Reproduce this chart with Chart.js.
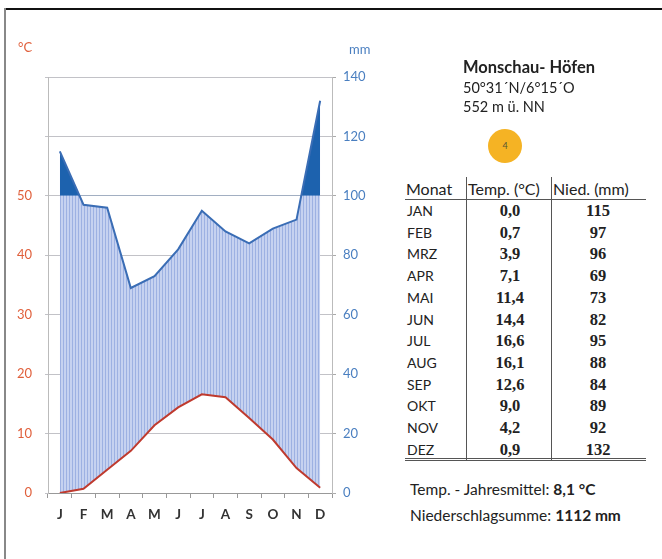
<!DOCTYPE html>
<html>
<head>
<meta charset="utf-8">
<script src="https://cdn.jsdelivr.net/npm/chart.js@4"></script>
<style>
  html, body { margin: 0; padding: 0; background: #fff; }
  body { width: 662px; height: 559px; position: relative; overflow: hidden; font-family: Lato, 'Open Sans', sans-serif; color: #222; }
  .abs { position: absolute; white-space: nowrap; }
  #frameTop { position: absolute; left: 4px; top: 8px; width: 658px; height: 2px; background: #111; }
  #frameLeft { position: absolute; left: 4px; top: 8px; width: 2px; height: 551px; background: #888; }
  #chartBox { position: absolute; left: 0; top: 0; width: 380px; height: 559px; }
  .unit { font-size: 13px; }
  .vline { position: absolute; width: 1px; background: #555; }
  .hline { position: absolute; height: 1px; background: #555; }
  .mon { font-size: 14px; }
  .head { font-size: 16px; }
  .val { font-family: 'Liberation Serif', 'DejaVu Serif', serif; font-weight: bold; font-size: 16.5px; text-align: center; width: 60px; }
  .foot { font-size: 15.5px; }
</style>
</head>
<body>
<div id="frameTop"></div>
<div id="frameLeft"></div>
<div id="chartBox"><canvas id="c" width="380" height="559"></canvas></div>
<div class="abs unit" style="left:18px; top:39px; color:#e0603c;">°C</div>
<div class="abs unit" style="left:349px; top:41px; color:#4a7fc0;">mm</div>

<div class="abs" style="left:463px; top:57px; font-size:16.5px; font-weight:bold;">Monschau- Höfen</div>
<div class="abs" style="left:463px; top:79px; font-size:14.5px;">50°31´N/6°15´O</div>
<div class="abs" style="left:463px; top:98px; font-size:14.5px;">552 m ü. NN</div>
<div class="abs" style="left:488px; top:129px; width:34px; height:34px; border-radius:50%; background:#f5b324; text-align:center; line-height:34px; font-size:9px; color:#553;">4</div>

<div id="table"></div>

<div class="abs foot" style="left:410px; top:480px;">Temp. - Jahresmittel: <b>8,1 °C</b></div>
<div class="abs foot" style="left:410px; top:506px;">Niederschlagsumme: <b>1112 mm</b></div>

<script>
const monthLetters = ['J', 'F', 'M', 'A', 'M', 'J', 'J', 'A', 'S', 'O', 'N', 'D'];
const monthNames = ['JAN', 'FEB', 'MRZ', 'APR', 'MAI', 'JUN', 'JUL', 'AUG', 'SEP', 'OKT', 'NOV', 'DEZ'];
const tempC = [0.0, 0.7, 3.9, 7.1, 11.4, 14.4, 16.6, 16.1, 12.6, 9.0, 4.2, 0.9];
const precipMm = [115, 97, 96, 69, 73, 82, 95, 88, 84, 89, 92, 132];
const tempTicks = [0, 10, 20, 30, 40, 50];
const precipTicks = [0, 20, 40, 60, 80, 100, 120, 140];

// table on the right, built from the arrays
const table = document.getElementById('table');
function add(html) { table.insertAdjacentHTML('beforeend', html); }
add('<div class="abs head" style="left:406px; top:179px;">Monat</div>');
add('<div class="abs head" style="left:468px; top:179px;">Temp. (°C)</div>');
add('<div class="abs head" style="left:553px; top:179px;">Nied. (mm)</div>');
add('<div class="vline" style="left:466px; top:177px; height:283px;"></div>');
add('<div class="vline" style="left:551px; top:177px; height:283px;"></div>');
add('<div class="hline" style="left:405px; top:199px; width:241px;"></div>');
add('<div class="hline" style="left:405px; top:458px; width:241px;"></div>');
add('<div class="hline" style="left:405px; top:460px; width:241px;"></div>');
monthNames.forEach((m, i) => {
  const y = 202 + i * 21.7;
  add(`<div class="abs mon" style="left:407px; top:${y}px;">${m}</div>`);
  add(`<div class="abs val" style="left:480px; top:${y - 1}px;">${tempC[i].toFixed(1).replace('.', ',')}</div>`);
  add(`<div class="abs val" style="left:568px; top:${y - 1}px;">${precipMm[i]}</div>`);
});

// vertical hatch pattern
function makeHatch() {
  const p = document.createElement('canvas');
  p.width = 3; p.height = 4;
  const g = p.getContext('2d');
  g.fillStyle = '#c6d2f0';
  g.fillRect(0, 0, 3, 4);
  g.fillStyle = '#9db1e2';
  g.fillRect(0, 0, 1, 4);
  return g.createPattern(p, 'repeat');
}

Chart.defaults.font.family = 'Lato, "Open Sans", sans-serif';
Chart.defaults.font.size = 13;

new Chart(document.getElementById('c'), {
  type: 'line',
  data: {
    labels: monthLetters,
    datasets: [
      {
        label: 'Temp',
        data: tempC,
        yAxisID: 'yL',
        borderColor: '#bf3a2e',
        borderWidth: 2,
        pointRadius: 0,
        tension: 0,
        fill: false
      },
      {
        label: 'Nied',
        data: precipMm,
        yAxisID: 'yR',
        borderColor: '#3a6db5',
        borderWidth: 2,
        pointRadius: 0,
        tension: 0,
        fill: { target: { value: 100 }, above: '#1d62ae', below: 'rgba(0,0,0,0)' }
      },
      {
        label: 'Humid',
        data: precipMm,
        yAxisID: 'yR',
        borderWidth: 0,
        borderColor: 'rgba(0,0,0,0)',
        pointRadius: 0,
        tension: 0,
        backgroundColor: makeHatch(),
        fill: 0
      }
    ]
  },
  options: {
    responsive: false,
    animation: false,
    events: [],
    layout: { padding: { top: 77, bottom: 0, left: 0, right: 0 } },
    plugins: { legend: { display: false }, tooltip: { enabled: false } },
    scales: {
      x: {
        offset: true,
        grid: { offset: true, drawOnChartArea: false, drawTicks: true, tickLength: 5, color: '#999' },
        border: { color: '#999' },
        ticks: { color: '#333', font: { weight: 'bold', size: 13.5 }, padding: 9, maxRotation: 0 },
        afterFit: s => { s.height = 66; }
      },
      yL: {
        position: 'left',
        min: 0, max: 70,
        z: 1,
        afterBuildTicks: s => { s.ticks = [0, 10, 20, 30, 40, 50, 60, 70].map(v => ({ value: v })); },
        ticks: {
          color: '#e0603c',
          padding: 13,
          callback: v => tempTicks.includes(v) ? String(v) : ''
        },
        grid: { color: 'rgba(120,120,130,0.45)', tickLength: 3 },
        border: { color: '#bbb' },
        afterFit: s => { s.width = 48; }
      },
      yR: {
        position: 'right',
        min: 0, max: 140,
        afterBuildTicks: s => { s.ticks = precipTicks.map(v => ({ value: v })); },
        ticks: { color: '#4a7fc0', padding: 7 },
        grid: { drawOnChartArea: false, color: '#aaa', tickLength: 4 },
        border: { color: '#bbb' },
        afterFit: s => { s.width = 48; }
      }
    }
  }
});
</script>
</body>
</html>
